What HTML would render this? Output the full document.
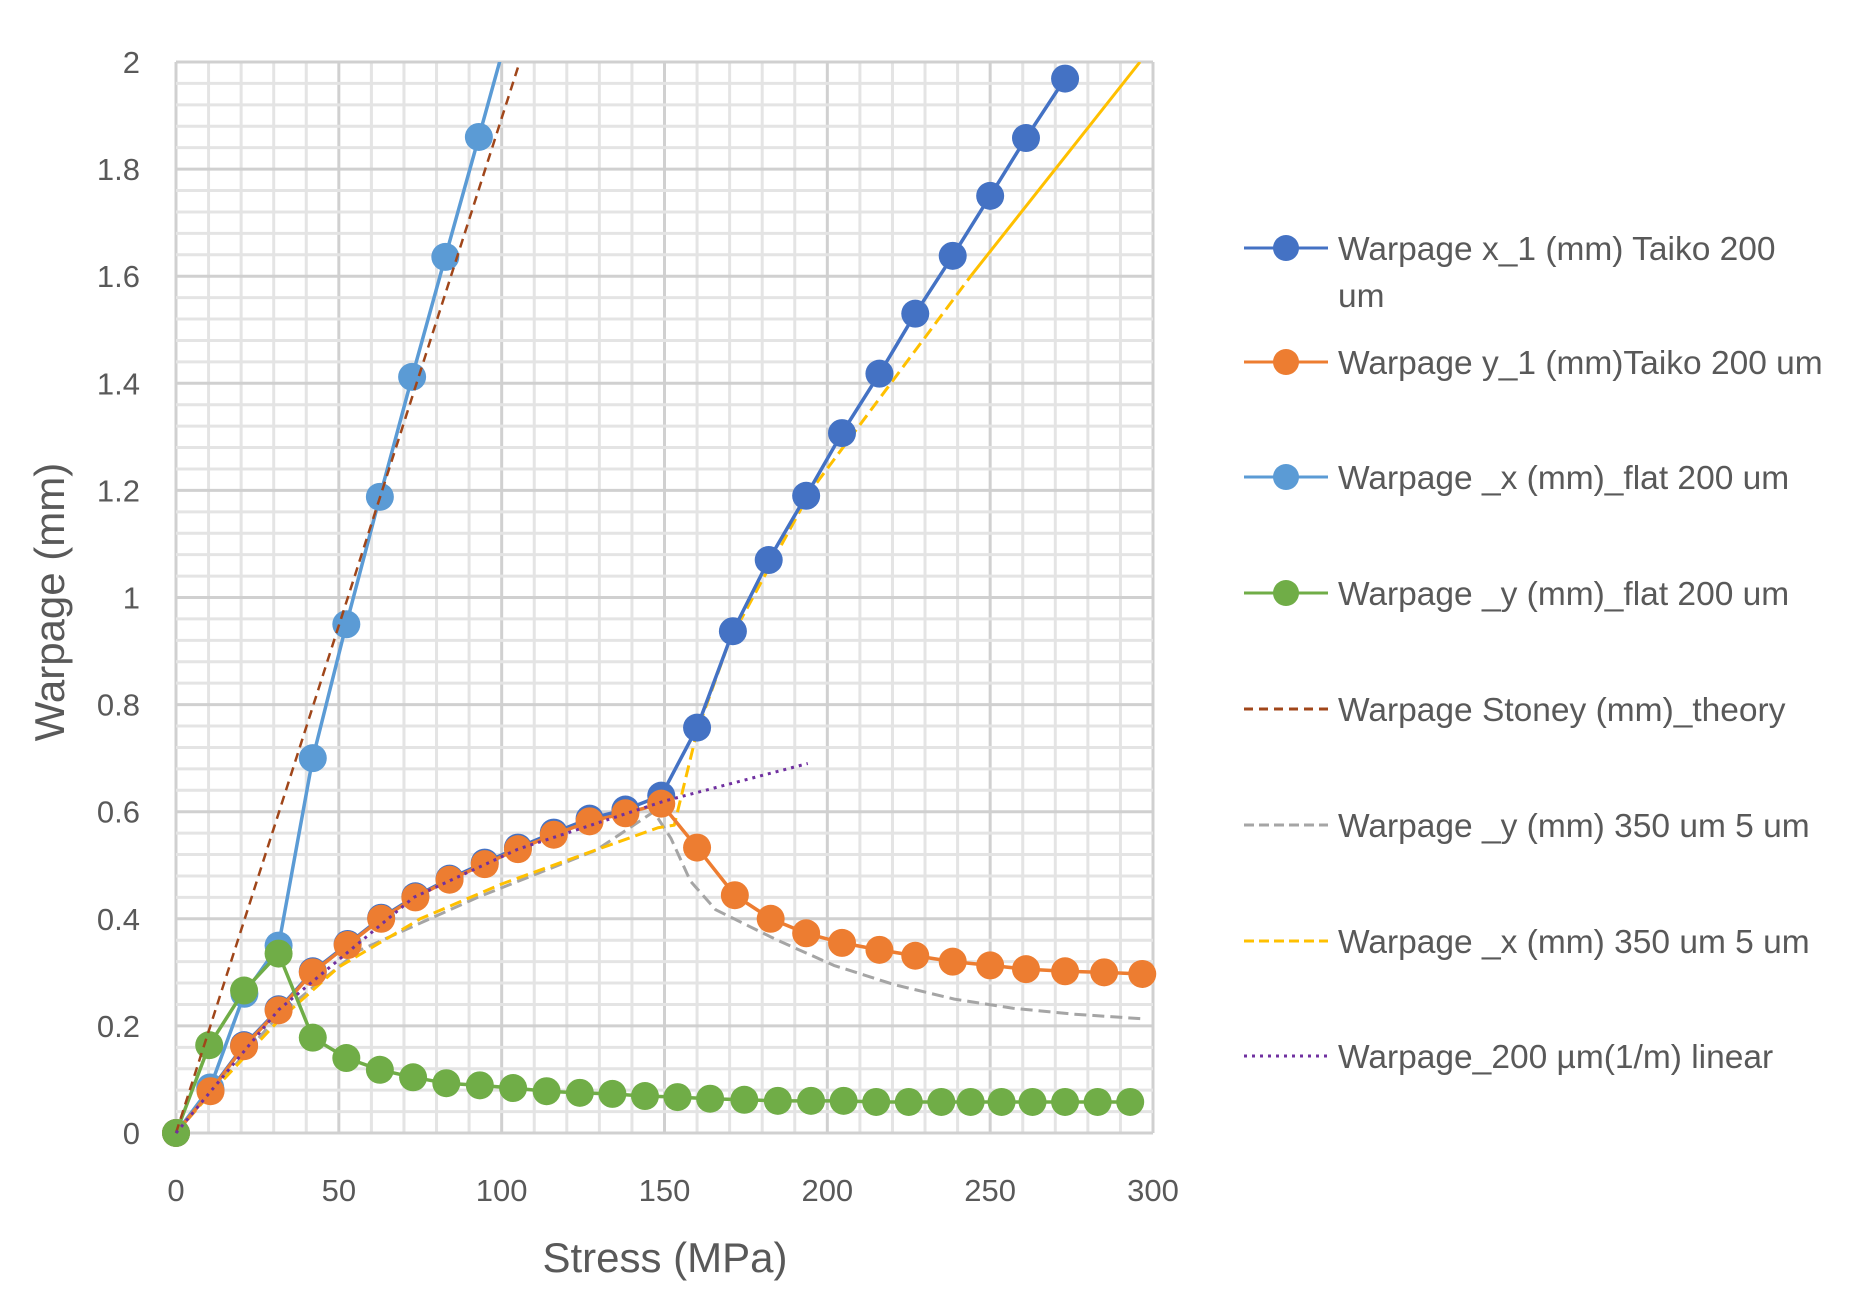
<!DOCTYPE html>
<html><head><meta charset="utf-8">
<style>
html,body{margin:0;padding:0;background:#fff;}
svg{display:block;}
text{font-family:"Liberation Sans",sans-serif;fill:#595959;}
</style></head>
<body>
<svg id="chart" width="1866" height="1297" viewBox="0 0 1866 1297">
<defs><clipPath id="plotclip"><rect x="150" y="62" width="1030" height="1110"/></clipPath></defs>
<g id="grid"></g>
<g id="axes"></g>
<g id="series" clip-path="url(#plotclip)"></g>
<text x="665" y="1272" font-size="42" text-anchor="middle">Stress (MPa)</text>
<text transform="translate(64,602) rotate(-90)" font-size="42" text-anchor="middle">Warpage (mm)</text>
<g id="legend"></g>
</svg>
<script>
const xTicks=[0,50,100,150,200,250,300];
const yTicks=[0,0.2,0.4,0.6,0.8,1,1.2,1.4,1.6,1.8,2];
const yTickLabels=["0","0.2","0.4","0.6","0.8","1","1.2","1.4","1.6","1.8","2"];

const taikoX_x=[0,10.6,20.9,31.5,42,52.7,63,73.5,84,94.8,105,116,127,138,149,160,171,182,193.5,204.5,216,227,238.5,250,261,273];
const taikoX_y=[0,0.08,0.164,0.231,0.302,0.353,0.402,0.442,0.475,0.505,0.533,0.561,0.587,0.604,0.63,0.757,0.937,1.07,1.19,1.307,1.418,1.53,1.638,1.75,1.858,1.969];
const taikoY_x=[0,10.6,20.9,31.5,42,52.7,63,73.5,84,94.8,105,116,127,138,149,160,171.6,182.6,193.5,204.5,216,227,238.5,250,261,273,285,296.7];
const taikoY_y=[0,0.078,0.162,0.229,0.3,0.351,0.4,0.44,0.473,0.502,0.53,0.557,0.582,0.597,0.615,0.533,0.444,0.4,0.373,0.355,0.342,0.331,0.32,0.313,0.306,0.302,0.3,0.297];
const flatX_x=[0,10.5,21,31.5,42,52.3,62.6,72.5,82.7,93,103];
const flatX_y=[0,0.085,0.26,0.35,0.70,0.95,1.188,1.412,1.636,1.86,2.08];
const flatY_x=[0,10.2,20.9,31.5,42,52.3,62.6,72.8,83,93.3,103.5,113.8,124,134,144,154,164,174.5,184.8,195,205,215,225,235,244,253.5,263,273,283,293];
const flatY_y=[0,0.164,0.266,0.335,0.178,0.14,0.118,0.104,0.093,0.089,0.084,0.078,0.075,0.073,0.069,0.067,0.064,0.062,0.06,0.06,0.06,0.058,0.058,0.058,0.058,0.058,0.058,0.058,0.058,0.058];
const stoney_x=[0,105];
const stoney_y=[0,1.99];
const y350_x=[0,31.5,56,92.6,129,146.7,152,158,165.7,184,202,220.6,239,257,275.5,297.4];
const y350_y=[0,0.22,0.34,0.44,0.528,0.6,0.55,0.47,0.417,0.362,0.313,0.277,0.25,0.233,0.222,0.213];
const x350_x=[0,10,20,31.5,50,75,100,125,148,153,160,170,195,244];
const x350_y=[0,0.07,0.135,0.21,0.31,0.4,0.465,0.52,0.57,0.575,0.75,0.92,1.2,1.6];
const x350solid_x=[244,296];
const x350solid_y=[1.6,2.0];
const lin_x=[0,31.5,73,105,150,194];
const lin_y=[0,0.23,0.44,0.53,0.62,0.69];

const X0=176,X1=1153,Y0=1133,Y1=62;
const sx=v=>X0+(v-0)/300*(X1-X0);
const sy=v=>Y0-(v-0)/2*(Y0-Y1);
const NS="http://www.w3.org/2000/svg";
function mk(tag,attrs,parent){const e=document.createElementNS(NS,tag);for(const k in attrs)e.setAttribute(k,attrs[k]);parent.appendChild(e);return e;}

const grid=document.getElementById('grid');
for(let v=0;v<=300;v+=10){const l=mk('line',{x1:sx(v),x2:sx(v),y1:Y1,y2:Y0,stroke:v%50===0?'#d0d0d0':'#e4e4e4','stroke-width':3},grid);

}
for(let i=0;i<=50;i++){const v=i*0.04;const maj=i%5===0;const l=mk('line',{x1:X0,x2:X1,y1:sy(v),y2:sy(v),stroke:maj?'#d0d0d0':'#e4e4e4','stroke-width':3},grid);

}

const axes=document.getElementById('axes');
xTicks.forEach(v=>{const t=mk('text',{x:sx(v),y:1201,'font-size':31,'text-anchor':'middle'},axes);t.textContent=v;

});
yTicks.forEach((v,i)=>{const t=mk('text',{x:140,y:sy(v)+11,'font-size':31,'text-anchor':'end'},axes);t.textContent=yTickLabels[i];

});

const ser=document.getElementById('series');
function line(xs,ys,color,w,dash,name){const p=mk('polyline',{points:xs.map((x,i)=>sx(x)+','+sy(ys[i])).join(' '),fill:'none',stroke:color,'stroke-width':w,'stroke-dasharray':dash||'none','stroke-linejoin':'round'},ser);

}
function markers(xs,ys,color,name){xs.forEach((x,i)=>{const c=mk('circle',{cx:sx(x),cy:sy(ys[i]),r:14,fill:color},ser);

});}

line(y350_x,y350_y,'#a5a5a5',3,'12 6','series-y-350-line');
line(x350_x,x350_y,'#ffc000',3,'12 6','series-x-350-line');
line(x350solid_x,x350solid_y,'#ffc000',3,null,'series-x-350-solid-line');
line(taikoX_x,taikoX_y,'#4472c4',3.5,null,'series-taiko-x-line');
markers(taikoX_x,taikoX_y,'#4472c4','taiko-x-point');
line(flatX_x,flatX_y,'#5b9bd5',3.5,null,'series-flat-x-line');
markers(flatX_x.slice(0,10),flatX_y.slice(0,10),'#5b9bd5','flat-x-point');
line(taikoY_x,taikoY_y,'#ed7d31',3.5,null,'series-taiko-y-line');
markers(taikoY_x,taikoY_y,'#ed7d31','taiko-y-point');
line(flatY_x,flatY_y,'#70ad47',3.5,null,'series-flat-y-line');
markers(flatY_x,flatY_y,'#70ad47','flat-y-point');
line(stoney_x,stoney_y,'#a0461a',2.5,'9 6','series-stoney-line');
line(lin_x,lin_y,'#7030a0',3,'3 5','series-linear-line');

const leg=document.getElementById('legend');
const legLabels=["Warpage x_1 (mm) Taiko 200","Warpage y_1 (mm)Taiko 200 um","Warpage _x (mm)_flat 200 um","Warpage _y (mm)_flat 200 um","Warpage Stoney (mm)_theory","Warpage _y (mm) 350 um 5 um","Warpage _x (mm) 350 um 5 um","Warpage_200 \u00b5m(1/m) linear"];
const legColors=['#4472c4','#ed7d31','#5b9bd5','#70ad47','#a0461a','#a5a5a5','#ffc000','#7030a0'];
const legDash=['none','none','none','none','9 6','10 5','10 5','3 5'];
const legY=[248,362,477,593,709,825,941,1056];
legLabels.forEach((lab,i)=>{
 const g=mk('g',{},leg);
 
 
 mk('line',{x1:1244,x2:1328,y1:legY[i],y2:legY[i],stroke:legColors[i],'stroke-width':3,'stroke-dasharray':legDash[i]},g);
 if(i<4)mk('circle',{cx:1286,cy:legY[i],r:13,fill:legColors[i]},g);
 const t=mk('text',{x:1338,y:legY[i]+12,'font-size':33.5},g);t.textContent=lab;
 if(i===0){const t2=mk('text',{x:1338,y:legY[i]+59,'font-size':33.5},g);t2.textContent='um';}
});
</script>
</body></html>
